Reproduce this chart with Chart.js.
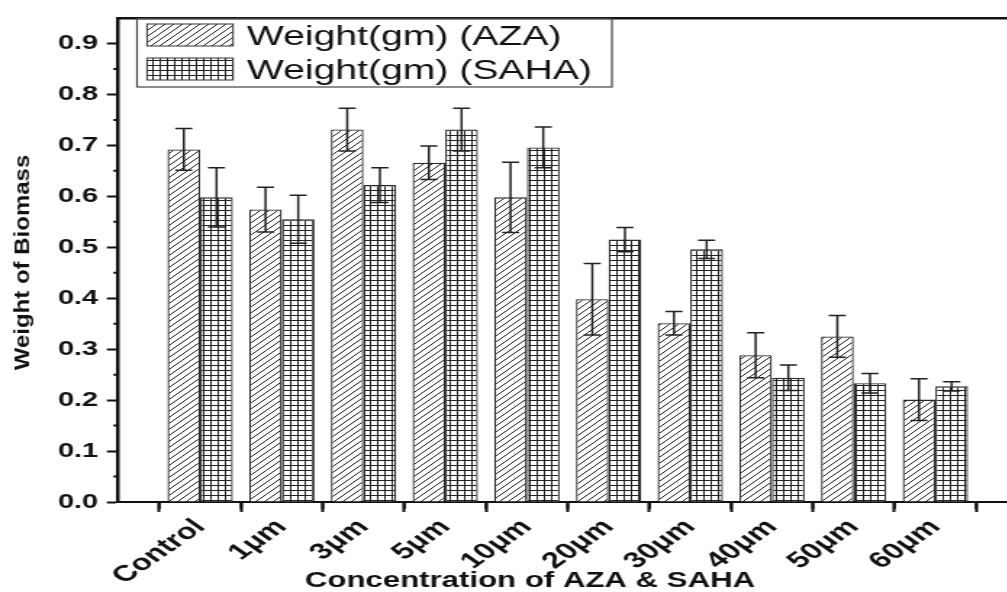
<!DOCTYPE html>
<html>
<head>
<meta charset="utf-8">
<script src="https://cdn.jsdelivr.net/npm/chart.js@4.4.1/dist/chart.umd.min.js"></script>
<style>
  html, body { margin: 0; padding: 0; background: #fff; overflow: hidden; width: 1007px; height: 592px; }
  /* drawn narrow, then widened sideways so the lettering comes out broad */
  #wrap { width: 730px; height: 592px; transform: scaleX(1.45); transform-origin: 0 0; }
</style>
</head>
<body>
<div id="wrap"><canvas id="biomass" width="730" height="592"></canvas></div>
<script>
// blank slots at both ends keep the axis running past the groups
const categories = ['', 'Control', '1μm', '3μm', '5μm', '10μm', '20μm', '30μm', '40μm', '50μm', '60μm', ''];
const azaWeight  = [null, 0.692, 0.574, 0.731, 0.666, 0.598, 0.398, 0.351, 0.288, 0.325, 0.201, null];
const azaError   = [null, 0.041, 0.044, 0.042, 0.033, 0.069, 0.070, 0.023, 0.044, 0.041, 0.041, null];
const sahaWeight = [null, 0.598, 0.555, 0.622, 0.731, 0.696, 0.515, 0.496, 0.244, 0.233, 0.227, null];
const sahaError  = [null, 0.058, 0.047, 0.034, 0.042, 0.040, 0.024, 0.018, 0.025, 0.019, 0.009, null];
const seriesNames = ['Weight(gm) (AZA)', 'Weight(gm) (SAHA)'];
const yMax = 0.95;
const yStep = 0.1;
const yMinorTicks = [0.05, 0.15, 0.25, 0.35, 0.45, 0.55, 0.65, 0.75, 0.85];

const FONT = "'Liberation Sans', Arial, sans-serif";
const INK = '#111';
const W = 730;
const PLOT_LEFT = 81.7;
const PLOT_RIGHT = 701.4;
const CAP = 5.9;

// bar fills: diagonal hatch and square grid
function makePattern(size, draw) {
  const c = document.createElement('canvas');
  c.width = size; c.height = size;
  const g = c.getContext('2d');
  g.fillStyle = '#fff';
  g.fillRect(0, 0, size, size);
  g.strokeStyle = '#222';
  g.lineWidth = 1;
  draw(g, size);
  return g.createPattern(c, 'repeat');
}

const hatch = makePattern(6, (g, s) => {
  g.beginPath();
  g.moveTo(-1, s + 1); g.lineTo(s + 1, -1);
  g.moveTo(-1, 1); g.lineTo(1, -1);
  g.moveTo(s - 1, s + 1); g.lineTo(s + 1, s - 1);
  g.stroke();
});

const grid = makePattern(5, (g, s) => {
  g.beginPath();
  g.moveTo(0.5, 0); g.lineTo(0.5, s);
  g.moveTo(0, 0.5); g.lineTo(s, 0.5);
  g.stroke();
});

const errorSets = [azaError, sahaError];

const errorBars = {
  id: 'errorBars',
  afterDatasetsDraw(chart) {
    const { ctx } = chart;
    const y = chart.scales.y;
    ctx.save();
    ctx.strokeStyle = '#222';
    ctx.lineWidth = 1.5;
    chart.data.datasets.forEach((ds, di) => {
      chart.getDatasetMeta(di).data.forEach((bar, i) => {
        const v = ds.data[i];
        if (v == null) return;
        const e = errorSets[di][i];
        const top = y.getPixelForValue(v + e);
        const bot = y.getPixelForValue(v - e);
        ctx.beginPath();
        ctx.moveTo(bar.x, top); ctx.lineTo(bar.x, bot);
        ctx.moveTo(bar.x - CAP, top); ctx.lineTo(bar.x + CAP, top);
        ctx.moveTo(bar.x - CAP, bot); ctx.lineTo(bar.x + CAP, bot);
        ctx.stroke();
      });
    });
    ctx.restore();
  }
};

// minor ticks, axis titles and the boxed legend
const frame = {
  id: 'frame',
  afterDraw(chart) {
    const { ctx } = chart;
    const x = chart.scales.x, y = chart.scales.y;
    ctx.save();
    ctx.strokeStyle = INK;
    ctx.lineWidth = 2;
    ctx.beginPath();
    for (let i = 0; i < categories.length - 1; i++) {
      const px = x.getPixelForValue(i + 0.5);
      ctx.moveTo(px, x.top); ctx.lineTo(px, x.top + 7);
    }
    yMinorTicks.forEach(v => {
      const py = y.getPixelForValue(v);
      ctx.moveTo(y.right - 3.5, py); ctx.lineTo(y.right, py);
    });
    ctx.stroke();

    ctx.fillStyle = INK;
    ctx.font = `bold 21.5px ${FONT}`;
    ctx.textAlign = 'center';
    ctx.textBaseline = 'alphabetic';
    ctx.fillText('Concentration of AZA & SAHA', 365.5, 587);

    ctx.save();
    ctx.translate(15.9, 262.5);
    ctx.rotate(-Math.PI / 2);
    ctx.scale(1, 0.63);
    ctx.font = `bold 24px ${FONT}`;
    ctx.textBaseline = 'middle';
    ctx.fillText('Weight of Biomass', 0, 0);
    ctx.restore();

    // legend
    ctx.lineWidth = 1.2;
    ctx.strokeStyle = '#444';
    ctx.strokeRect(94.5, 18.5, 327.5, 68.5);
    ctx.font = `27px ${FONT}`;
    ctx.textAlign = 'left';
    chart.data.datasets.forEach((ds, di) => {
      const top = 24 + di * 34;
      ctx.fillStyle = ds.backgroundColor;
      ctx.fillRect(101.4, top, 59.3, 22);
      ctx.strokeStyle = '#333';
      ctx.lineWidth = 1;
      ctx.strokeRect(101.4, top, 59.3, 22);
      ctx.fillStyle = INK;
      ctx.fillText(ds.label, 170.3, top + 21);
    });
    ctx.restore();
  }
};

new Chart(document.getElementById('biomass'), {
  type: 'bar',
  data: {
    labels: categories,
    datasets: [
      { label: seriesNames[0], data: azaWeight, backgroundColor: hatch, borderColor: '#2a2a2a', borderWidth: 1.3 },
      { label: seriesNames[1], data: sahaWeight, backgroundColor: grid, borderColor: '#2a2a2a', borderWidth: 1.3 },
    ],
  },
  options: {
    responsive: false,
    animation: false,
    devicePixelRatio: 1,
    layout: { padding: { top: 15, right: W - PLOT_RIGHT, left: 0, bottom: 0 } },
    datasets: { bar: { categoryPercentage: 0.8, barPercentage: 1.0 } },
    plugins: { legend: { display: false }, tooltip: { enabled: false } },
    scales: {
      x: {
        offset: false,
        grid: { drawOnChartArea: false, tickLength: 10, tickWidth: 2, tickColor: INK },
        border: { color: INK, width: 2 },
        ticks: {
          autoSkip: false, minRotation: 45, maxRotation: 45, padding: 2,
          color: INK, font: { family: FONT, size: 22.5, weight: 'bold' },
        },
        afterFit: s => { s.height = 90; },
      },
      xTop: {
        type: 'category', position: 'top', offset: false,
        grid: { display: false, drawTicks: false },
        ticks: { display: false },
        border: { color: INK, width: 2.5 },
        afterFit: s => { s.height = 0; },
      },
      y: {
        min: 0, max: yMax,
        grid: { drawOnChartArea: false, tickLength: 8, tickWidth: 2, tickColor: INK },
        border: { color: INK, width: 2.5 },
        ticks: {
          stepSize: yStep, includeBounds: false, padding: 6,
          color: INK, font: { family: FONT, size: 20, weight: 'bold' },
          callback: v => v.toFixed(1),
        },
        afterFit: s => { s.width = PLOT_LEFT; },
      },
    },
  },
  plugins: [errorBars, frame],
});
</script>
</body>
</html>
